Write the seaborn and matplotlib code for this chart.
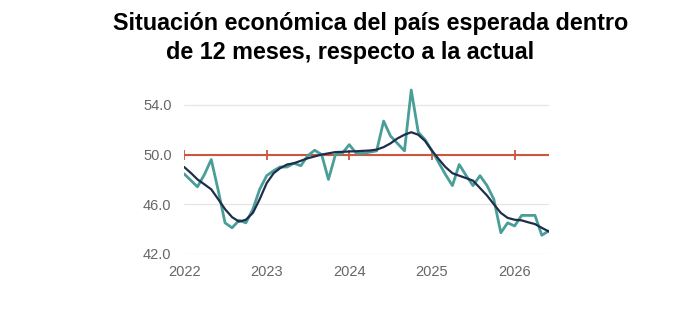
import pandas as pd
import matplotlib.pyplot as plt
import seaborn as sns

# monthly observations, Jan 2022 - Jun 2026
months = pd.date_range('2022-01-01', periods=54, freq='MS')
observed = [48.45, 47.9, 47.4, 48.4, 49.6, 47.1, 44.5, 44.1, 44.7, 44.5, 45.6, 47.2,
            48.3, 48.7, 49.0, 49.0, 49.3, 49.1, 49.9, 50.35, 50.0, 48.0, 50.0, 50.1,
            50.8, 50.1, 50.1, 50.2, 50.3, 52.7, 51.5, 50.9, 50.3, 55.2, 51.8, 51.2,
            50.3, 49.3, 48.4, 47.5, 49.2, 48.3, 47.5, 48.3, 47.5, 46.4, 43.7, 44.5,
            44.25, 45.1, 45.1, 45.1, 43.5, 43.85]
trend = [49.0, 48.5, 48.0, 47.6, 47.2, 46.4, 45.6, 44.96, 44.6, 44.75, 45.3, 46.4,
         47.7, 48.5, 48.9, 49.2, 49.3, 49.5, 49.7, 49.85, 50.0, 50.1, 50.2, 50.22,
         50.25, 50.27, 50.3, 50.33, 50.4, 50.6, 50.9, 51.3, 51.6, 51.8, 51.6, 51.1,
         50.3, 49.6, 49.0, 48.5, 48.3, 48.1, 47.9, 47.3, 46.7, 46.0, 45.3, 44.9,
         44.75, 44.7, 44.55, 44.4, 44.1, 43.8]
neutral = 50.0
year_ticks = pd.to_datetime(['2022-01-01', '2023-01-01', '2024-01-01', '2025-01-01', '2026-01-01'])
year_labels = ['2022', '2023', '2024', '2025', '2026']
y_ticks = [42.0, 46.0, 50.0, 54.0]

df = pd.DataFrame({'fecha': months, 'observado': observed, 'tendencia': trend})

sns.set_style('white')
plt.rcParams['font.family'] = ['Liberation Sans', 'DejaVu Sans']

fig = plt.figure(figsize=(7.0, 3.31), dpi=100)
ax = fig.add_axes([0.263, 0.233, 0.521, 0.525])

for yv in y_ticks:
    ax.axhline(yv, color='#e6e6e6', lw=0.9, zorder=0)

# reference line at 50 with year markers
ref = pd.DataFrame({'fecha': list(year_ticks) + [months[-1]], 'valor': [neutral] * 6})
ax.plot(ref['fecha'], ref['valor'], color='#c9583f', lw=1.5, marker='|', markersize=7,
        markeredgewidth=1.3, markevery=[0, 1, 2, 3, 4], zorder=2)

sns.lineplot(data=df, x='fecha', y='observado', color='#4a9e98', lw=2.0, ax=ax, zorder=3)
sns.lineplot(data=df, x='fecha', y='tendencia', color='#1f2d4d', lw=1.6, ax=ax, zorder=4)

ax.set_xlim(months[0], months[-1])
ax.set_ylim(42.0, 56.0)
ax.set_xticks(year_ticks)
ax.set_xticklabels(year_labels)
ax.set_yticks(y_ticks)
ax.set_yticklabels([f'{v:.1f}' for v in y_ticks])
ax.tick_params(axis='both', length=0, labelsize=10.5, colors='#666666')
ax.tick_params(axis='x', pad=8)
ax.tick_params(axis='y', pad=9)
ax.set_xlabel('')
ax.set_ylabel('')
sns.despine(ax=ax, left=True, bottom=True)

fig.text(0.53, 0.93, 'Situación económica del país esperada dentro', ha='center', va='center',
         fontsize=16.8, fontweight='bold', color='black')
fig.text(0.50, 0.84, 'de 12 meses, respecto a la actual', ha='center', va='center',
         fontsize=16.8, fontweight='bold', color='black')

plt.savefig('out.png', dpi=100)
plt.close()
